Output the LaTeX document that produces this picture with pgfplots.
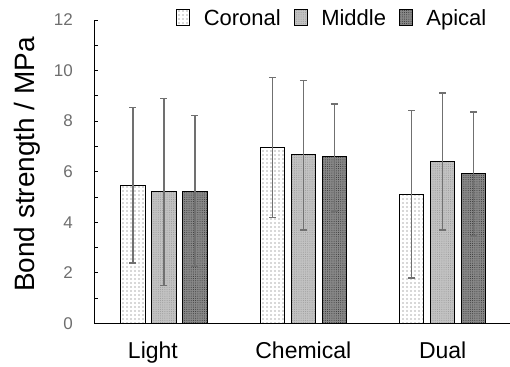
\documentclass[border=0pt]{standalone}
\usepackage{pgfplots}
\pgfplotsset{compat=1.18}
\usepackage{fontspec}
\setmainfont{Liberation Sans}
\usetikzlibrary{patterns,patterns.meta}
\definecolor{ticklab}{HTML}{6E6E6E}
\definecolor{errc}{HTML}{707070}
\definecolor{midfill}{HTML}{C2C2C2}
\definecolor{apifill}{HTML}{888888}

\pgfplotstableread{
x y p m
0 5.45 3.10 3.06
1 6.97 2.75 2.77
2 5.09 3.33 3.29
}\coronal
\pgfplotstableread{
x y p m
0 5.22 3.68 3.72
1 6.67 2.95 2.97
2 6.39 2.72 2.69
}\middle
\pgfplotstableread{
x y p m
0 5.22 3.00 2.95
1 6.59 2.09 2.14
2 5.92 2.44 2.46
}\apical

\begin{document}
\begin{tikzpicture}
\begin{axis}[
  scale only axis,
  width=415.7pt, height=303.7pt,
  xmin=-0.5, xmax=2.48,
  ymin=0, ymax=12,
  axis x line*=bottom, axis y line*=left,
  axis line style={black, line width=0.9pt},
  ytick={0,2,...,12},
  minor ytick={1,3,...,11},
  tick align=inside,
  major tick length=4pt, minor tick length=4pt,
  tick style={black, line width=0.8pt},
  yticklabel style={font=\fontsize{17}{20}\selectfont, text=ticklab, xshift=-18pt},
  xtick={0,1,2},
  xticklabels={Light\rule{22pt}{0pt},Chemical,Dual},
  xtick style={draw=none},
  xticklabel style={font=\fontsize{23}{26}\selectfont, anchor=base, yshift=-31pt},
  ylabel={Bond strength / MPa},
  ylabel style={font=\fontsize{28}{30}\selectfont, at={(axis description cs:-0.161,0.524)}, anchor=center},
  ybar, bar width=24.5pt,
  /pgf/number format/assume math mode=true,
  error bars/y dir=both, error bars/y explicit,
  error bars/error mark=|,
  error bars/error bar style={draw=errc, line width=1.3pt, solid},
  error bars/error mark options={draw=errc, line width=1.3pt, mark size=3.5pt, solid},
  legend columns=3,
  legend style={at={(rel axis cs:0.947,1.039)}, anchor=north east, draw=none, fill=none,
    font=\fontsize{22}{24}\selectfont, inner sep=0pt,
    nodes={inner sep=1pt},
    /tikz/every even column/.append style={column sep=12pt}},
  legend image code/.code={\draw[#1] (0pt,-7pt) rectangle (13pt,9pt);
    \pgfpathmoveto{\pgfqpoint{26pt}{0pt}}\pgfusepath{discard}},
]
\addplot[draw=black, line width=1pt, fill=white, bar shift=-31pt,
  postaction={pattern={Dots[distance=4pt, radius=0.65pt]}, pattern color=gray!70!black}]
  table[x=x, y=y, y error plus=p, y error minus=m] {\coronal};
\addplot[draw=black, line width=1pt, fill=midfill, bar shift=0pt,
  postaction={pattern={Dots[distance=2.2pt, radius=0.5pt]}, pattern color=gray!80}]
  table[x=x, y=y, y error plus=p, y error minus=m] {\middle};
\addplot[draw=black, line width=1pt, fill=apifill, bar shift=31pt,
  postaction={pattern={Dots[distance=2.2pt, radius=0.5pt]}, pattern color=gray!40!black}]
  table[x=x, y=y, y error plus=p, y error minus=m] {\apical};
\legend{Coronal, Middle, Apical}
\end{axis}
\useasboundingbox (-94.3pt,-41.3pt) rectangle (415.7pt,323.7pt);
\end{tikzpicture}
\end{document}
